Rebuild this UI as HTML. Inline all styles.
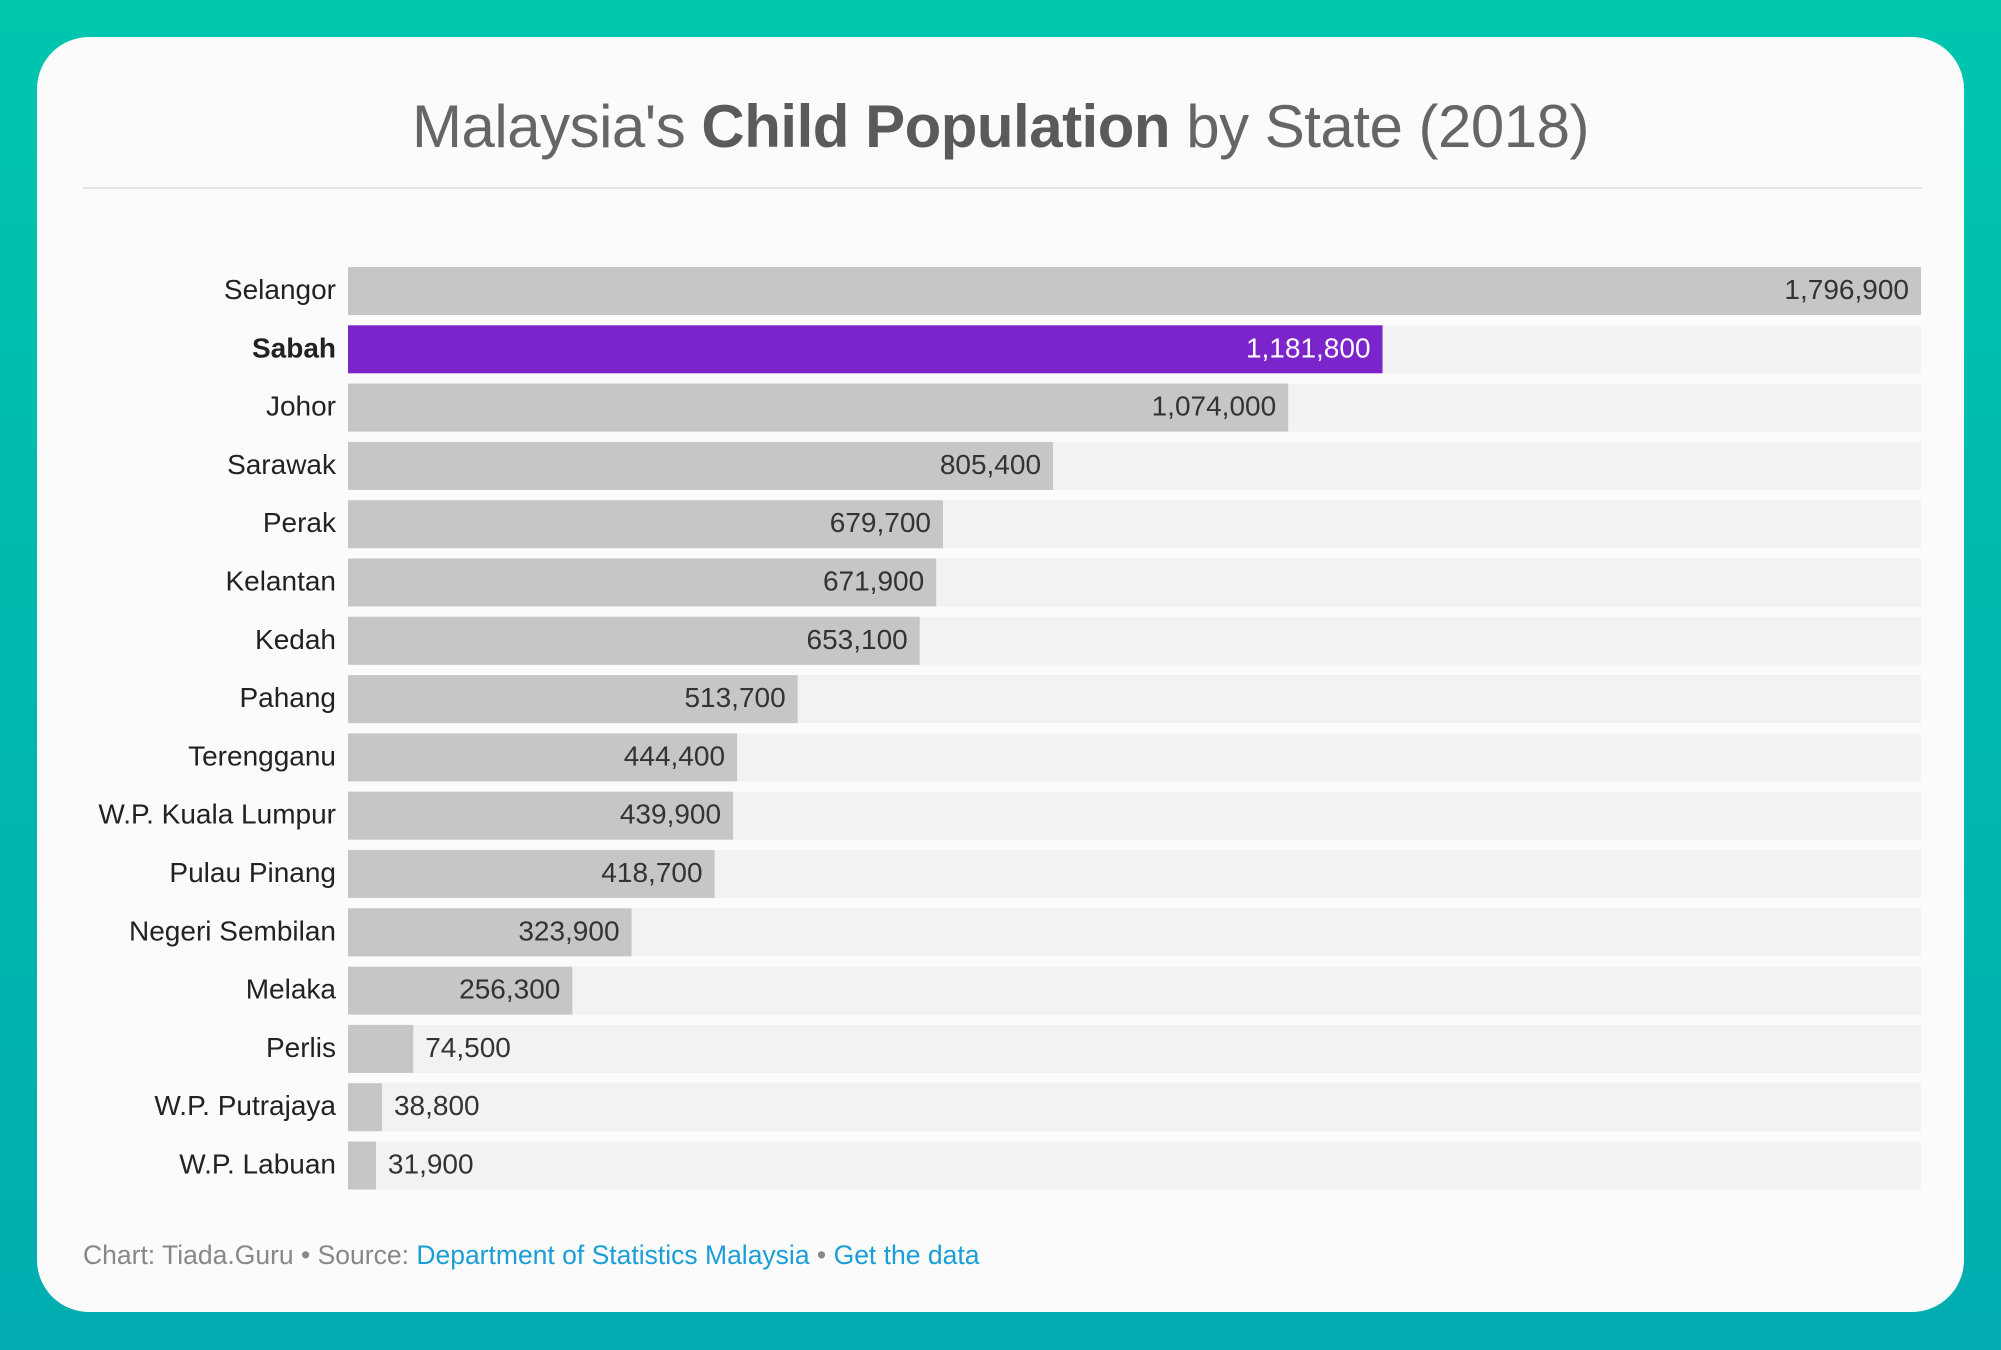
<!DOCTYPE html>
<html><head><meta charset="utf-8">
<style>
html,body{margin:0;padding:0}
body{width:2001px;height:1350px;overflow:hidden;background:linear-gradient(180deg,#00c6ae 0%,#00b8ae 50%,#00acb0 100%);font-family:"Liberation Sans",sans-serif;position:relative}
#card{position:absolute;left:37px;top:37px;width:1927px;height:1275px;background:#fbfbfc;border-radius:52px}
#title{position:absolute;left:0;width:2001px;top:92px;text-align:center;font-size:60px;color:#666;letter-spacing:-0.5px}
#title b{color:#5a5a5a}
#rule{position:absolute;left:83px;top:187px;width:1839px;height:2px;background:#e4e4e6}
#footer{position:absolute;left:83px;top:1240px;font-size:26.5px;color:#888}
#footer a{color:#1a9ed6;text-decoration:none}
</style></head>
<body>
<div id="card"></div>
<div id="title">Malaysia's <b>Child Population</b> by State (2018)</div>
<div id="rule"></div>
<svg id="chart" width="2001" height="1350" style="position:absolute;left:0;top:0"></svg>
<div id="footer">Chart: Tiada.Guru • Source: <a>Department of Statistics Malaysia</a> • <a>Get the data</a></div>
<script>
const states = ["Selangor","Sabah","Johor","Sarawak","Perak","Kelantan","Kedah","Pahang","Terengganu","W.P. Kuala Lumpur","Pulau Pinang","Negeri Sembilan","Melaka","Perlis","W.P. Putrajaya","W.P. Labuan"];
const values = [1796900,1181800,1074000,805400,679700,671900,653100,513700,444400,439900,418700,323900,256300,74500,38800,31900];
const highlight = ["Sabah"];

const svg = document.getElementById('chart');
const NS = 'http://www.w3.org/2000/svg';
const x0 = 348, plotW = 1573, top0 = 267, pitch = 58.3, barH = 48;
const maxV = Math.max(...values);
const xScale = v => v / maxV * plotW;
const yScale = i => top0 + i * pitch;
const fmt = v => v.toLocaleString('en-US');

states.forEach((s, i) => {
  const y = yScale(i);
  const bg = document.createElementNS(NS, 'rect');
  bg.setAttribute('x', x0); bg.setAttribute('y', y); bg.setAttribute('width', plotW); bg.setAttribute('height', barH);
  bg.setAttribute('fill', '#f2f2f2');
  
  
  svg.appendChild(bg);

  const hi = highlight.includes(s);
  const w = xScale(values[i]);
  const r = document.createElementNS(NS, 'rect');
  r.setAttribute('x', x0); r.setAttribute('y', y); r.setAttribute('width', w); r.setAttribute('height', barH);
  r.setAttribute('fill', hi ? '#7c24cc' : '#c6c6c6');
  
  
  svg.appendChild(r);

  const lab = document.createElementNS(NS, 'text');
  lab.setAttribute('x', 336); lab.setAttribute('y', y + barH / 2 + 8);
  lab.setAttribute('text-anchor', 'end');
  lab.setAttribute('font-size', '28');
  lab.setAttribute('font-weight', hi ? 'bold' : 'normal');
  lab.setAttribute('fill', '#222');
  lab.textContent = s;
  
  
  svg.appendChild(lab);

  const val = document.createElementNS(NS, 'text');
  const inside = w > 150;
  val.setAttribute('x', inside ? x0 + w - 12 : x0 + w + 12);
  val.setAttribute('y', y + barH / 2 + 8);
  val.setAttribute('text-anchor', inside ? 'end' : 'start');
  val.setAttribute('font-size', '28');
  val.setAttribute('fill', hi ? '#fff' : '#333');
  val.textContent = fmt(values[i]);
  
  
  svg.appendChild(val);
});
</script>
</body></html>
